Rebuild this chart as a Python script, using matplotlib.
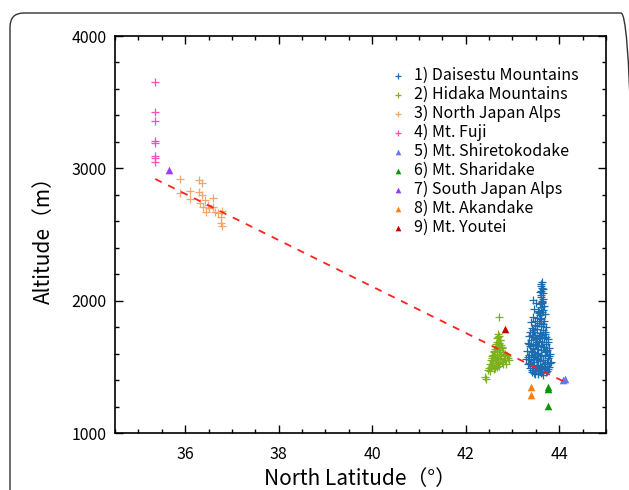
import matplotlib.pyplot as plt
from matplotlib.patches import FancyBboxPatch
from matplotlib.ticker import MultipleLocator

plt.rcParams['font.family'] = ['Noto Sans CJK JP', 'DejaVu Sans']

# 1) Daisetsu Mountains
daisetsu_lat = [43.63, 43.62, 43.64, 43.61, 43.65, 43.62, 43.60, 43.66, 43.63, 43.45,
                43.50, 43.59, 43.67, 43.62, 43.47, 43.55, 43.64, 43.70, 43.58, 43.45,
                43.52, 43.62, 43.68, 43.40, 43.56, 43.65, 43.48, 43.60, 43.72, 43.42,
                43.53, 43.66, 43.38, 43.47, 43.58, 43.70, 43.62, 43.35, 43.44, 43.52,
                43.67, 43.75, 43.40, 43.57, 43.63, 43.33, 43.48, 43.72, 43.55, 43.38,
                43.65, 43.45, 43.78, 43.52, 43.60, 43.32, 43.42, 43.70, 43.55, 43.48,
                43.80, 43.36, 43.62, 43.44, 43.75, 43.52, 43.30, 43.66, 43.40, 43.58,
                43.82, 43.47, 43.34, 43.70, 43.55, 43.43, 43.63, 43.78, 43.38, 43.50,
                43.68, 43.58, 43.45, 43.74, 43.42, 43.55, 43.62, 43.48, 43.66, 43.60,
                43.64, 43.57, 43.61, 43.69, 43.50, 43.46, 43.36, 43.72, 43.53, 43.59,
                43.41, 43.49, 43.56, 43.63, 43.71, 43.77, 43.35, 43.44, 43.51, 43.60,
                43.67, 43.74, 43.39, 43.46, 43.54, 43.61, 43.69, 43.79, 43.33, 43.43,
                43.50, 43.58, 43.65, 43.73, 43.81, 43.37, 43.45, 43.53, 43.62, 43.70,
                43.76, 43.41, 43.49, 43.57, 43.64, 43.72, 43.47, 43.55, 43.61, 43.68,
                43.44, 43.52, 43.59, 43.66, 43.48, 43.57, 43.63, 43.58, 43.66, 43.61]
daisetsu_alt = [2140, 2110, 2095, 2075, 2060, 2045, 2030, 2015, 2000, 2005,
                1985, 1975, 1960, 1950, 1940, 1925, 1915, 1900, 1895, 1880,
                1870, 1860, 1850, 1840, 1835, 1825, 1815, 1805, 1800, 1790,
                1785, 1775, 1765, 1760, 1755, 1745, 1740, 1730, 1725, 1720,
                1715, 1710, 1700, 1695, 1690, 1680, 1675, 1670, 1665, 1655,
                1650, 1645, 1640, 1635, 1630, 1620, 1615, 1610, 1605, 1600,
                1595, 1590, 1585, 1575, 1570, 1565, 1560, 1555, 1550, 1545,
                1540, 1535, 1525, 1520, 1515, 1510, 1505, 1500, 1495, 1490,
                1485, 1480, 1475, 1470, 1460, 1455, 1450, 1445, 1440, 1465,
                1985, 1905, 1830, 1760, 1710, 1580, 1530, 1620, 1690, 1720,
                1742, 1738, 1732, 1728, 1722, 1690, 1672, 1668, 1662, 1658,
                1648, 1628, 1618, 1612, 1598, 1592, 1588, 1580, 1572, 1562,
                1558, 1552, 1548, 1538, 1530, 1522, 1512, 1508, 1498, 1493,
                1484, 1478, 1472, 1466, 1462, 1458, 1452, 1448, 1470, 1505,
                1780, 1810, 1868, 1930, 1845, 1912, 1990, 2065, 2088, 2125]

# 2) Hidaka Mountains
hidaka_lat = [42.72, 42.70, 42.72, 42.68, 42.74, 42.66, 42.71, 42.76, 42.64, 42.69,
              42.78, 42.62, 42.73, 42.80, 42.60, 42.67, 42.84, 42.58, 42.75, 42.88,
              42.63, 42.56, 42.82, 42.70, 42.92, 42.54, 42.66, 42.78, 42.58, 42.86,
              42.52, 42.64, 42.72, 42.55, 42.50, 42.60, 42.53, 42.42, 42.43,
              42.69, 42.73, 42.65, 42.77, 42.61, 42.71, 42.81, 42.57, 42.68, 42.74,
              42.62, 42.85, 42.59, 42.70, 42.79, 42.56, 42.66, 42.62, 42.48, 42.90]
hidaka_alt = [1880, 1750, 1730, 1715, 1700, 1690, 1680, 1665, 1660, 1650,
              1640, 1635, 1625, 1615, 1610, 1600, 1595, 1590, 1585, 1580,
              1575, 1570, 1565, 1560, 1555, 1550, 1545, 1540, 1530, 1525,
              1520, 1515, 1510, 1500, 1490, 1485, 1470, 1420, 1405,
              1722, 1706, 1672, 1648, 1622, 1612, 1592, 1582, 1568, 1562,
              1552, 1548, 1542, 1532, 1518, 1512, 1502, 1492, 1478, 1570]

# 3) North Japan Alps
nja_lat = [35.89, 35.89, 36.11, 36.11, 36.29, 36.36, 36.30, 36.36, 36.32, 36.43,
           36.39, 36.45, 36.50, 36.59, 36.60, 36.64, 36.78, 36.76, 36.76, 36.78,
           36.71, 36.48]
nja_alt = [2917, 2811, 2831, 2768, 2912, 2887, 2825, 2799, 2741, 2761,
           2711, 2673, 2698, 2778, 2711, 2673, 2681, 2635, 2590, 2564,
           2660, 2720]

# 4) Mt. Fuji
fuji_lat = [35.36, 35.36, 35.35, 35.36, 35.35, 35.36, 35.35, 35.35]
fuji_alt = [3650, 3425, 3360, 3210, 3195, 3095, 3080, 3045]

# 5)-9) single summits
shiretoko_lat = [44.08, 44.13]
shiretoko_alt = [1400, 1410]
shari_lat = [43.77, 43.77, 43.77]
shari_alt = [1350, 1335, 1207]
sja_lat = [35.66]
sja_alt = [2985]
akan_lat = [43.39, 43.39]
akan_alt = [1350, 1287]
youtei_lat = [42.84]
youtei_alt = [1786]

# regression line
trend_lat = [35.36, 44.12]
trend_alt = [2920, 1385]

fig = plt.figure(figsize=(6.29, 4.90), dpi=100)
ax = fig.add_axes([0.1828, 0.1163, 0.7806, 0.8102])

cross = dict(marker='+', s=32, linewidths=0.9)
tri = dict(marker='^', s=30, linewidths=0)

ax.scatter(daisetsu_lat, daisetsu_alt, color='#1a6db3', label='1) Daisestu Mountains', **cross)
ax.scatter(hidaka_lat, hidaka_alt, color='#7cb21f', label='2) Hidaka Mountains', **cross)
ax.scatter(nja_lat, nja_alt, color='#f2a66a', label='3) North Japan Alps', **cross)
ax.scatter(fuji_lat, fuji_alt, color='#ff4fb0', label='4) Mt. Fuji', **cross)
ax.scatter(shiretoko_lat, shiretoko_alt, color='#6475ff', label='5) Mt. Shiretokodake', **tri)
ax.scatter(shari_lat, shari_alt, color='#0a960a', label='6) Mt. Sharidake', **tri)
ax.scatter(sja_lat, sja_alt, color='#9b3cf5', label='7) South Japan Alps', **tri)
ax.scatter(akan_lat, akan_alt, color='#ff7f0e', label='8) Mt. Akandake', **tri)
ax.scatter(youtei_lat, youtei_alt, color='#c80000', label='9) Mt. Youtei', **tri)

ax.plot(trend_lat, trend_alt, color='#ff2020', linestyle=(0, (4, 4)), linewidth=1.3)

ax.set_xlim(34.5, 45)
ax.set_ylim(1000, 4000)
ax.xaxis.set_major_locator(MultipleLocator(2))
ax.xaxis.set_minor_locator(MultipleLocator(0.5))
ax.yaxis.set_major_locator(MultipleLocator(1000))
ax.yaxis.set_minor_locator(MultipleLocator(200))
ax.tick_params(which='both', direction='in', top=True, right=True, labelsize=11.5)
ax.tick_params(which='major', length=6, width=1)
ax.tick_params(which='minor', length=3, width=1)
ax.tick_params(axis='x', pad=9)
ax.tick_params(axis='y', pad=6)
for sp in ax.spines.values():
    sp.set_linewidth(1.2)

ax.set_xlabel('North Latitude（°）', fontsize=15, labelpad=4)
ax.set_ylabel('Altitude（m）', fontsize=15, labelpad=12)

ax.legend(loc='upper left', bbox_to_anchor=(0.535, 0.95), frameon=False, fontsize=11.5,
          markerscale=0.75, handletextpad=0.4, labelspacing=0.12, handlelength=1.2,
          borderpad=0.2)

frame = FancyBboxPatch((0.1, -0.5), 6.25, 5.27, boxstyle='round,pad=0,rounding_size=0.14',
                       transform=fig.dpi_scale_trans, fill=False, edgecolor='#333333',
                       linewidth=1.0)
fig.patches.append(frame)

fig.savefig('out.png', dpi=100)
